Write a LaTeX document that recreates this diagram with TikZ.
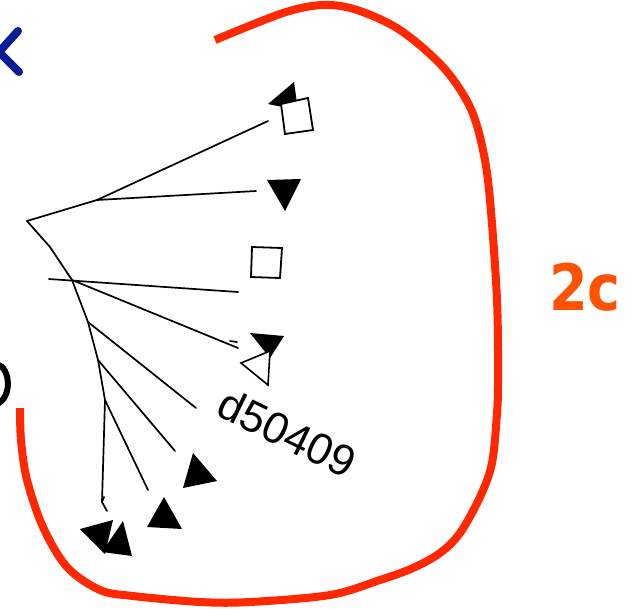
\documentclass[tikz,border=0pt]{standalone}
\usepackage{fontspec}
\newfontfamily\labelfont{Liberation Sans}
\newfontfamily\bigfont{DejaVu Sans}
\definecolor{loopred}{RGB}{255,40,0}
\definecolor{tagorange}{RGB}{255,82,0}
\definecolor{chevblue}{RGB}{8,28,150}
\begin{document}
\begin{tikzpicture}[x=1pt,y=-1pt,
  edge/.style={line width=1.7pt, black, line cap=round},
  tri/.style={fill=black},
  opentri/.style={draw=black, fill=white, line width=1.6pt, line join=miter},
  box/.style={draw=black, fill=white, line width=1.8pt},
  loop/.style={draw=loopred, line width=8pt, line cap=butt}]
\useasboundingbox (0,0) rectangle (639,608);
\fill[white] (0,0) rectangle (639,608);

% red enclosing curve
\draw[loop] plot[smooth, tension=0.55] coordinates {
 (215,40) (283,13) (323,5) (357,10) (400,30) (443,67) (470,107) (483,150)
 (490,200) (497,300) (498,380) (497,413) (492,463) (480,497) (460,533)
 (440,553) (413,568) (380,580) (330,595) (250,602) (200,602) (133,596)
 (100,590) (67,567) (43,527) (27,480) (21,440) (20,408)};

% partial glyphs at the left edge
\draw[chevblue, line width=8pt, line cap=round, line join=round]
  (18,31) -- (-1,52) -- (19,72);
\draw[black, line width=6pt] (-3,364) .. controls (11,368) and (12,398) .. (-3,404);

% tree
\coordinate (R) at (27,221);
\coordinate (N1) at (97,200);
\coordinate (E1) at (268,121);
\coordinate (E2) at (256,191);
\coordinate (K) at (50,247);
\coordinate (N2) at (72,280);
\coordinate (H0) at (49,279);
\coordinate (H1) at (238,292);
\coordinate (E3) at (238,348);
\coordinate (T3a) at (230,341);
\coordinate (T3b) at (237,342);
\coordinate (N3) at (88,322);
\coordinate (E4) at (196,408);
\coordinate (N4) at (98,360);
\coordinate (E5) at (175,451);
\coordinate (N5) at (105,400);
\coordinate (E6) at (148,490);
\coordinate (S) at (102,502);
\coordinate (E7) at (107,511);
\coordinate (T7a) at (104,497);

\draw[edge] (R) -- (N1) -- (E1);
\draw[edge] (N1) -- (E2);
\draw[edge, line join=round] (R) -- (K) -- (N2) -- (N3) -- (N4) -- (N5) -- (S) -- (E7);
\draw[edge] (S) -- (T7a);
\draw[edge] (H0) -- (H1);
\draw[edge] (N2) -- (E3);
\draw[edge] (T3a) -- (T3b);
\draw[edge] (N3) -- (E4);
\draw[edge] (N4) -- (E5);
\draw[edge] (N5) -- (E6);

% leaf markers
\fill[tri] (268,104) -- (294,82) -- (298,110) -- cycle;
\draw[box] (281,104) -- (308,98) -- (313,130) -- (285,134) -- cycle;
\fill[tri] (267,180) -- (301,179) -- (285,211) -- cycle;
\draw[box] (252,247) -- (282,248) -- (280,278) -- (251,277) -- cycle;
\fill[tri] (250,333) -- (284,336) -- (270,358) -- cycle;
\draw[opentri] (241,363) -- (270,351) -- (268,385) -- cycle;
\fill[tri] (193,453) -- (217,481) -- (183,488) -- cycle;
\fill[tri] (164,497) -- (182,529) -- (147,527) -- cycle;
\fill[tri] (80,529) -- (113,520) -- (105,554) -- cycle;
\fill[tri] (123,521) -- (132,556) -- (102,552) -- cycle;

% labels
\node[rotate=-26, inner sep=0pt, font=\labelfont\fontsize{44}{44}\selectfont] (lbl) at (287,433) {d50409};
\node[text=tagorange, inner sep=0pt, xscale=0.87, font=\bigfont\bfseries\fontsize{64}{64}\selectfont] (tag) at (585,287) {2c};
\end{tikzpicture}
\end{document}
